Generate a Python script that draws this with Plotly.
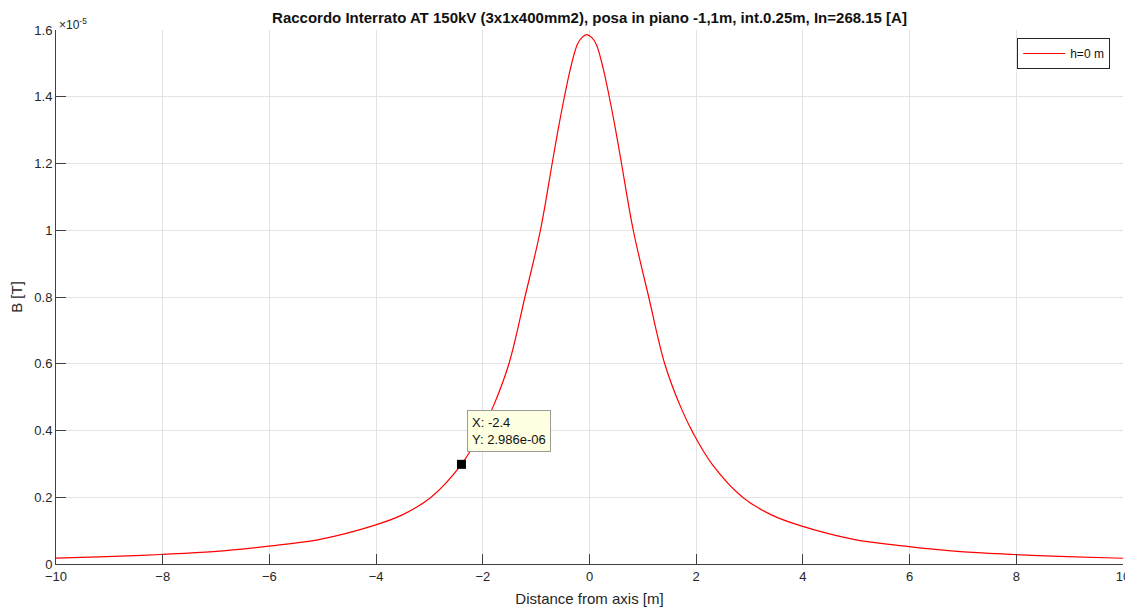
import plotly.graph_objects as go

# Distance from axis [m]
x_m = [-10, -9.05, -8.05, -7.05, -6.05, -5.05, -4.05, -3.5, -2.97, -2.4, -2.05,
       -1.81, -1.51, -1.21, -0.92, -0.70, -0.59, -0.47, -0.355, -0.23, -0.14, -0.05,
       0.04, 0.13, 0.255, 0.37, 0.49, 0.60, 0.82, 1.11, 1.41, 1.71, 1.95, 2.30, 2.87,
       3.40, 3.95, 4.95, 5.95, 6.95, 7.95, 8.95, 10]
# B in units of 1e-5 T
b_e5 = [0.0175, 0.022, 0.0285, 0.037, 0.0528, 0.074, 0.115, 0.148, 0.20, 0.2986, 0.39,
        0.47, 0.60, 0.80, 1.00, 1.20, 1.30, 1.40, 1.486, 1.556, 1.578, 1.586,
        1.578, 1.556, 1.486, 1.40, 1.30, 1.20, 1.00, 0.80, 0.60, 0.47, 0.39, 0.2986, 0.20,
        0.148, 0.115, 0.074, 0.0528, 0.037, 0.0285, 0.022, 0.0172]

tip_x = -2.4
tip_y = 0.2986
tip_text = "X: -2.4<br>Y: 2.986e-06"

x_ticks = [-10, -8, -6, -4, -2, 0, 2, 4, 6, 8, 10]
y_ticks = [0, 0.2, 0.4, 0.6, 0.8, 1.0, 1.2, 1.4, 1.6]

FONT = "Liberation Sans, Arial, sans-serif"
AX = "#404040"
GRID = "#e3e3e3"

# page body has an 8px default margin; figure sized to fit the window
W, H = 1125, 599

fig = go.Figure()
fig.add_trace(go.Scatter(x=x_m, y=b_e5, mode="lines", name="h=0 m",
                         line=dict(color="#ff0000", width=1.2, shape="spline", smoothing=1.0)))
fig.add_trace(go.Scatter(x=[tip_x], y=[tip_y], mode="markers", showlegend=False,
                         marker=dict(symbol="square", size=9, color="black")))

fig.add_annotation(x=tip_x, y=tip_y, xref="x", yref="y", text=tip_text,
                   showarrow=False, xanchor="left", yanchor="bottom",
                   xshift=6, yshift=12, align="left",
                   bgcolor="#ffffe1", bordercolor="#9a9a9a", borderwidth=1, borderpad=4,
                   font=dict(family=FONT, size=13, color="#111111"))

fig.add_annotation(x=0, y=1, xref="paper", yref="paper", text="×10<sup>-5</sup>",
                   showarrow=False, xanchor="left", yanchor="bottom", yshift=-4, xshift=1,
                   font=dict(family=FONT, size=12, color="#262626"))

fig.update_layout(
    width=W, height=H,
    margin=dict(l=48, r=10, t=22, b=43),
    paper_bgcolor="white", plot_bgcolor="white",
    font=dict(family=FONT, size=13, color="#262626"),
    title=dict(text="<b>Raccordo Interrato AT 150kV (3x1x400mm2), posa in piano -1,1m, int.0.25m, In=268.15 [A]</b>",
               x=0.5, xref="paper", xanchor="center", y=1 - 10 / H, yanchor="middle",
               font=dict(family=FONT, size=15, color="#111111")),
    legend=dict(x=0.988, y=0.985, xanchor="right", yanchor="top",
                bgcolor="white", bordercolor="#262626", borderwidth=1, itemwidth=42,
                font=dict(family=FONT, size=12, color="#111111")),
    showlegend=True,
)
fig.update_xaxes(range=[-10, 10], tickvals=x_ticks, showgrid=True, gridcolor=GRID,
                 zeroline=False, showline=True, linecolor=AX, linewidth=1,
                 ticks="inside", ticklen=10, tickcolor=AX, automargin=False,
                 title=dict(text="Distance from axis [m]", standoff=10,
                            font=dict(family=FONT, size=15, color="#262626")))
fig.update_yaxes(range=[0, 1.6], tickvals=y_ticks, showgrid=True, gridcolor=GRID,
                 zeroline=False, showline=True, linecolor=AX, linewidth=1,
                 ticks="inside", ticklen=10, tickcolor=AX, automargin=False,
                 title=dict(text="B [T]", standoff=10,
                            font=dict(family=FONT, size=15, color="#262626")))

fig.write_html("out.html", post_script="document.body.style.overflow='hidden';")
